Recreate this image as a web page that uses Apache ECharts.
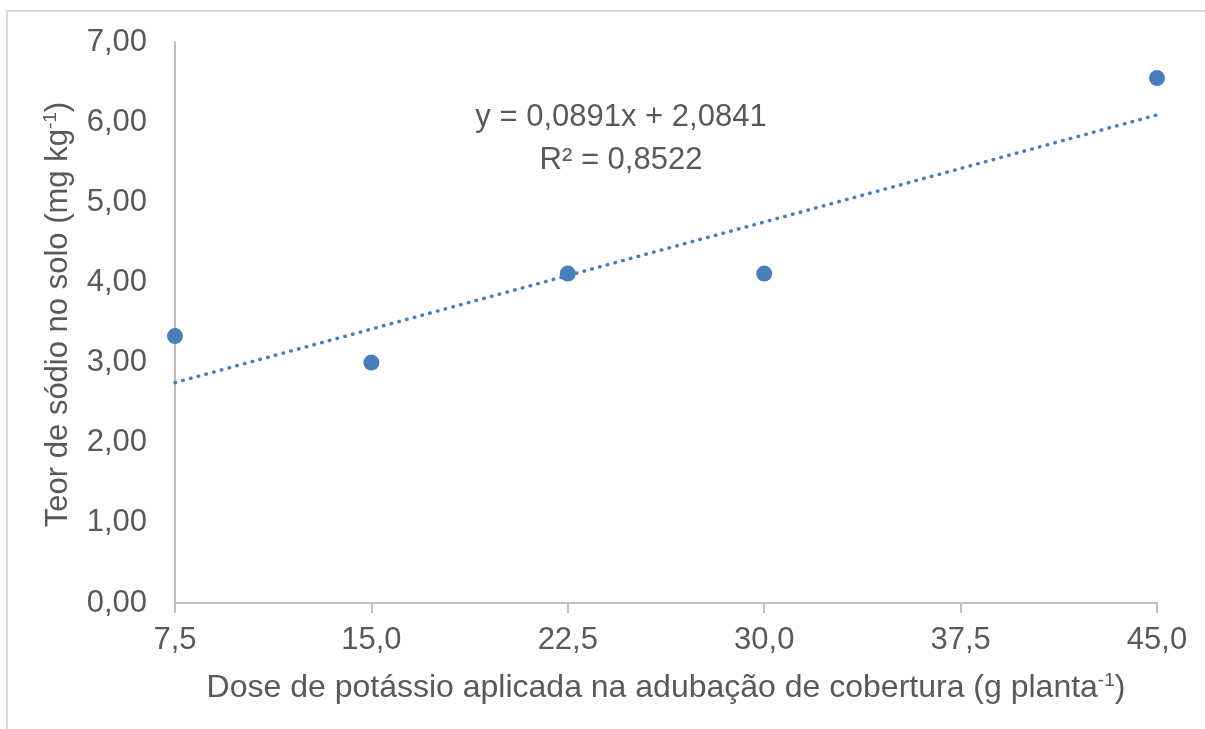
<!DOCTYPE html>
<html>
<head>
<meta charset="utf-8">
<script src="https://cdn.jsdelivr.net/npm/echarts@6/dist/echarts.min.js"></script>
<style>
html,body{margin:0;padding:0;background:#fff;}
#c{width:1205px;height:729px;}
</style>
</head>
<body>
<div id="c"></div>
<script>
const doses = [7.5, 15.0, 22.5, 30.0, 45.0];
const sodio = [3.33, 3.00, 4.11, 4.11, 6.55];
const trendX = [7.5, 45.0];
const trendY = [2.75, 6.09];
const equationText = 'y = 0,0891x + 2,0841';
const r2Text = 'R² = 0,8522';

const textColor = '#595959';
const dotColor = '#4A7EBB';
const FONT = 'Liberation Sans, Arial, sans-serif';

const chart = echarts.init(document.getElementById('c'), null, {renderer: 'canvas'});
chart.setOption({
  animation: false,
  backgroundColor: '#fff',
  textStyle: {fontFamily: FONT},
  graphic: [
    {type: 'rect', shape: {x: 7, y: 11, width: 1400, height: 900}, style: {fill: 'none', stroke: '#d9d9d9', lineWidth: 2}, silent: true},
    {type: 'text', x: 621, y: 96, style: {text: equationText + '\n' + r2Text, fill: textColor, font: '31px ' + FONT, align: 'center', textAlign: 'center', lineHeight: 43}, silent: true, z: 10}
  ],
  grid: {left: 175, right: 48, top: 42, bottom: 126, containLabel: false},
  xAxis: {
    type: 'value', min: 7.5, max: 45, interval: 7.5,
    name: '{t|Dose de potássio aplicada na adubação de cobertura (g planta}{s|-1}{t|)}',
    nameLocation: 'middle', nameGap: 68,
    nameTextStyle: {rich: {
      t: {fontSize: 32, color: textColor, fontFamily: FONT},
      s: {fontSize: 19, color: textColor, fontFamily: FONT, padding: [0, 0, 15, 0]}
    }},
    axisLine: {show: true, lineStyle: {color: '#bfbfbf', width: 2}},
    axisTick: {show: true, length: 10, lineStyle: {color: '#bfbfbf', width: 2}},
    splitLine: {show: false},
    axisLabel: {fontSize: 31, color: textColor, margin: 22, fontFamily: FONT,
      formatter: v => v.toFixed(1).replace('.', ',')}
  },
  yAxis: {
    type: 'value', min: 0, max: 7, interval: 1,
    name: '{t|Teor de sódio no solo (mg kg}{s|-1}{t|)}',
    nameLocation: 'middle', nameGap: 100, nameRotate: 90,
    nameTextStyle: {padding: [0, 0, 0, 16], rich: {
      t: {fontSize: 31, color: textColor, fontFamily: FONT},
      s: {fontSize: 19, color: textColor, fontFamily: FONT, padding: [0, 0, 15, 0]}
    }},
    axisLine: {show: true, lineStyle: {color: '#bfbfbf', width: 2}},
    axisTick: {show: false},
    splitLine: {show: false},
    axisLabel: {fontSize: 31, color: textColor, margin: 28, fontFamily: FONT,
      formatter: v => v.toFixed(2).replace('.', ',')}
  },
  series: [
    {
      type: 'line',
      data: trendX.map((x, i) => [x, trendY[i]]),
      showSymbol: false, symbol: 'none',
      lineStyle: {color: dotColor, width: 3.5, type: [0.5, 7.5], cap: 'round', opacity: 1},
      z: 2, silent: true
    },
    {
      type: 'scatter',
      data: doses.map((x, i) => [x, sodio[i]]),
      symbol: 'circle', symbolSize: 16,
      itemStyle: {color: dotColor, opacity: 1},
      z: 3
    }
  ]
});
</script>
</body>
</html>
